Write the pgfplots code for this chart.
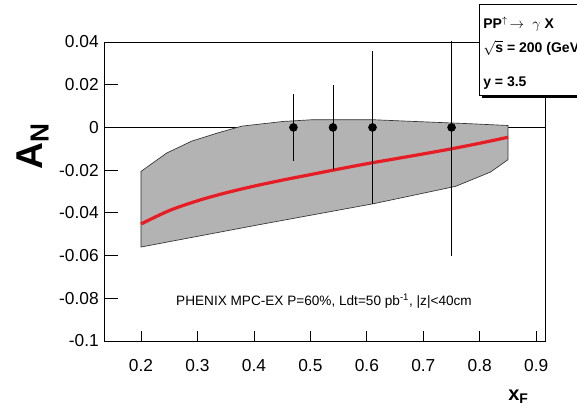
\documentclass[border=0pt]{standalone}
\usepackage{pgfplots}
\pgfplotsset{compat=1.18}
\usepackage{fontspec}
\setmainfont{Liberation Sans}
\definecolor{bandgray}{RGB}{179,179,179}
\definecolor{curvered}{RGB}{232,28,36}
\begin{document}
\begin{tikzpicture}[x=1pt,y=1pt]
\useasboundingbox (0,0) rectangle (432.75,305.25);
\clip (0,0) rectangle (432.75,305.25);
\begin{axis}[
  at={(78pt,49.5pt)}, anchor=south west,
  scale only axis, width=330.75pt, height=224.25pt,
  xmin=0.1345, xmax=0.9155, ymin=-0.1, ymax=0.04,
  xtick={0.2,0.3,0.4,0.5,0.6,0.7,0.8,0.9},
  ytick={-0.1,-0.08,-0.06,-0.04,-0.02,0,0.02,0.04},
  scaled y ticks=false, scaled x ticks=false,
  xtick pos=bottom, ytick pos=left,
  tick align=inside, major tick length=9pt,
  xtick style={/pgfplots/major tick length=7.5pt},
  ytick style={/pgfplots/major tick length=10.5pt},
  minor tick num=0,
  axis line style={black, line width=0.6pt},
  tick style={black, line width=0.6pt},
  /pgf/number format/assume math mode=true,
  xticklabel style={/pgf/number format/fixed, /pgf/number format/precision=1, font=\fontsize{13}{15}\selectfont, inner sep=0pt, anchor=north, yshift=-13.5pt},
  yticklabel style={/pgf/number format/fixed, /pgf/number format/precision=2, font=\fontsize{13}{15}\selectfont, inner sep=0pt, anchor=east, xshift=-3.75pt},
  clip=true,
]
% zero line
\addplot[black, line width=0.6pt] coordinates {(0.1345,0) (0.9155,0)};
% uncertainty band
\addplot[fill=bandgray, draw=black!80, line width=0.5pt] coordinates {
(0.2,-0.0206) (0.2455,-0.0120) (0.290,-0.0064) (0.337,-0.0025) (0.3785,0.0006)
(0.452,0.0028) (0.503,0.0036) (0.612,0.0036) (0.665,0.0030) (0.786,0.0017) (0.85,0.0009)
(0.85,-0.0151) (0.819,-0.0209) (0.757,-0.0276) (0.612,-0.0357) (0.408,-0.0456) (0.2,-0.0560)
} -- cycle;
% theory curve
\addplot[curvered, line width=2.4pt, smooth] coordinates {
(0.20,-0.0452) (0.25,-0.03895) (0.30,-0.03435) (0.35,-0.03065) (0.40,-0.0275)
(0.45,-0.0247) (0.50,-0.0221) (0.55,-0.0195) (0.60,-0.0170) (0.65,-0.0147)
(0.70,-0.0124) (0.75,-0.0100) (0.80,-0.0074) (0.85,-0.0046)
};
% projected data points
\addplot[only marks, mark=*, mark size=3pt, black,
  error bars/.cd, y dir=both, y explicit, error mark=none,
  error bar style={black, line width=0.6pt}]
  coordinates {
  (0.47,0) +- (0,0.0155)
  (0.54,0) +- (0,0.0198)
  (0.61,0) +- (0,0.0357)
  (0.75,0) +- (0,0.0602)
  };
\end{axis}
% annotation
\node[font=\fontsize{10.2}{12}\selectfont, anchor=center] at (243,79.5)
  {PHENIX MPC-EX P=60\%, Ldt=50 pb\textsuperscript{-1}, |z|<40cm};
% axis titles
\node[rotate=90, anchor=base west, font=\bfseries\fontsize{28}{32}\selectfont, inner sep=0pt] at (31.5,177.75) {A\textsubscript{N}};
\node[anchor=base west, font=\bfseries\fontsize{15}{18}\selectfont, inner sep=0pt] at (381,5) {x\textsubscript{F}};
% info box
\fill[black] (361.5,231.75) rectangle (470,300);
\filldraw[fill=white, draw=black, line width=0.6pt] (359.25,234) rectangle (467,302.25);
\begin{scope}[every node/.style={anchor=base west, inner sep=0pt, font=\bfseries\fontsize{10.5}{12}\selectfont}]
\node at (362.25,283.5) {PP$^{\uparrow}\!\rightarrow\;\gamma$ X};
\node at (362.25,265.5) {$\sqrt{\mbox{\bfseries s}}$ = 200  (GeV)};
\node at (362.25,240) {y = 3.5};
\end{scope}
\end{tikzpicture}
\end{document}
